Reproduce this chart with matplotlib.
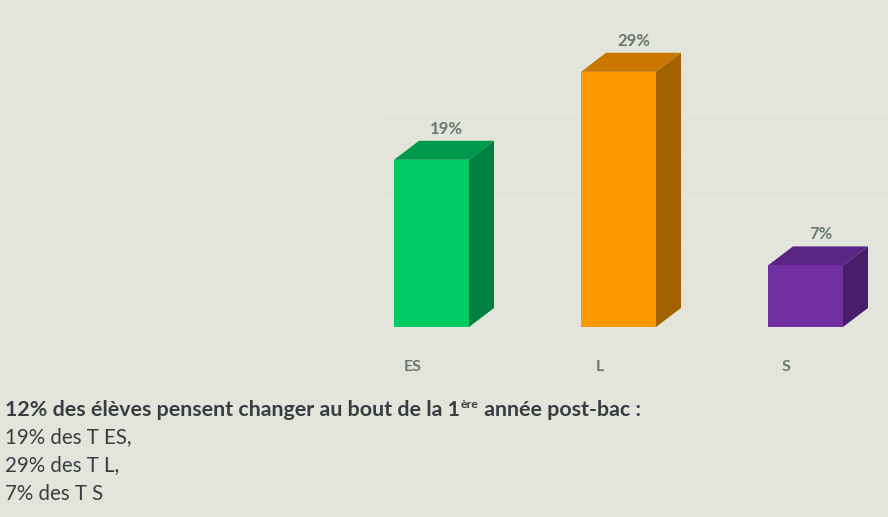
import matplotlib
matplotlib.use("Agg")
import matplotlib.pyplot as plt
from matplotlib.patches import Polygon
import numpy as np

# ---- data ----
categories = ["ES", "L", "S"]
values = [19, 29, 7]
value_labels = ["19%", "29%", "7%"]
front_colors = ["#00CC66", "#FF9900", "#7030A0"]
side_colors = ["#008040", "#A36200", "#481E6A"]
top_colors = ["#00994C", "#C87800", "#5A2386"]
wall_ticks = [0, 5, 10, 15, 20, 25, 30, 35]
summary_title = ("12% des élèves pensent changer au bout de la 1", "ère", " année post-bac :")
summary_lines = ["19% des T ES,", "29% des T L,", "7% des T S"]

BG = "#E3E5DA"
W, H = 888, 517
fig = plt.figure(figsize=(W / 100, H / 100), dpi=100, facecolor=BG)

px_per_x = 187.0
px_per_y = 8.8
x0_px, y0_px = 431.5, 517 - 327
ax = fig.add_axes([0, 0, 1, 1])
ax.set_xlim(-x0_px / px_per_x, (W - x0_px) / px_per_x)
ax.set_ylim(-y0_px / px_per_y, (H - y0_px) / px_per_y)
ax.set_facecolor(BG)
ax.axis("off")

bw = 75 / px_per_x
dx = 25 / px_per_x
dy = 19 / px_per_y

# faint back-wall gridlines with left wall diagonal
wall_left = (380 - x0_px) / px_per_x
diag_dx = -60 / px_per_x
diag_dy = -43 / px_per_y
GRID = "#E7E8E0"
for t in wall_ticks:
    yv = t * 0.977 - 0.1
    ax.plot([wall_left, ax.get_xlim()[1]], [yv, yv], color=GRID, lw=1.2, zorder=0)
    ax.plot([wall_left + diag_dx, wall_left], [yv + diag_dy, yv], color=GRID, lw=1.2, zorder=0)

xs = np.arange(len(categories))
bars = ax.bar(xs, values, width=bw, color=front_colors, zorder=3, linewidth=0)
for i, b in enumerate(bars):
    xl = b.get_x()
    xr = xl + b.get_width()
    h = b.get_height()
    side = Polygon([(xr, 0), (xr + dx, dy), (xr + dx, h + dy), (xr, h)],
                   closed=True, facecolor=side_colors[i], edgecolor="none", zorder=2)
    top = Polygon([(xl, h), (xl + dx, h + dy), (xr + dx, h + dy), (xr, h)],
                  closed=True, facecolor=top_colors[i], edgecolor="none", zorder=2)
    ax.add_patch(side)
    ax.add_patch(top)
    ax.text(xs[i] + dx * 0.6, h + dy + 12 / px_per_y, value_labels[i],
            ha="center", va="center", fontsize=12, fontweight="bold",
            color="#6A7872", family="Lato", zorder=4)
    ax.text(xs[i] - 19 / px_per_x, -40 / px_per_y, categories[i],
            ha="center", va="center", fontsize=11.5, fontweight="bold",
            color="#6A7872", family="Lato", zorder=4)

# ---- summary text ----
TXT = "#383D42"
fs = 14.8
renderer = fig.canvas.get_renderer()
y_title = 1 - 410 / H
t1 = fig.text(5 / W, y_title, summary_title[0], fontsize=fs + 0.6, fontweight="bold",
              color=TXT, family="Lato", va="center", ha="left")
bb = t1.get_window_extent(renderer)
t2 = fig.text(bb.x1 / W + 0.5 / W, y_title + 6 / H, summary_title[1], fontsize=fs * 0.6,
              fontweight="bold", color=TXT, family="Lato", va="center", ha="left")
bb2 = t2.get_window_extent(renderer)
fig.text(bb2.x1 / W + 1 / W, y_title, summary_title[2], fontsize=fs + 0.6, fontweight="bold",
         color=TXT, family="Lato", va="center", ha="left")
for k, line in enumerate(summary_lines):
    fig.text(5 / W, 1 - (437 + 28.5 * k) / H, line, fontsize=fs,
             color=TXT, family="Lato", va="center", ha="left")

fig.savefig("out.png", dpi=100, facecolor=BG)
